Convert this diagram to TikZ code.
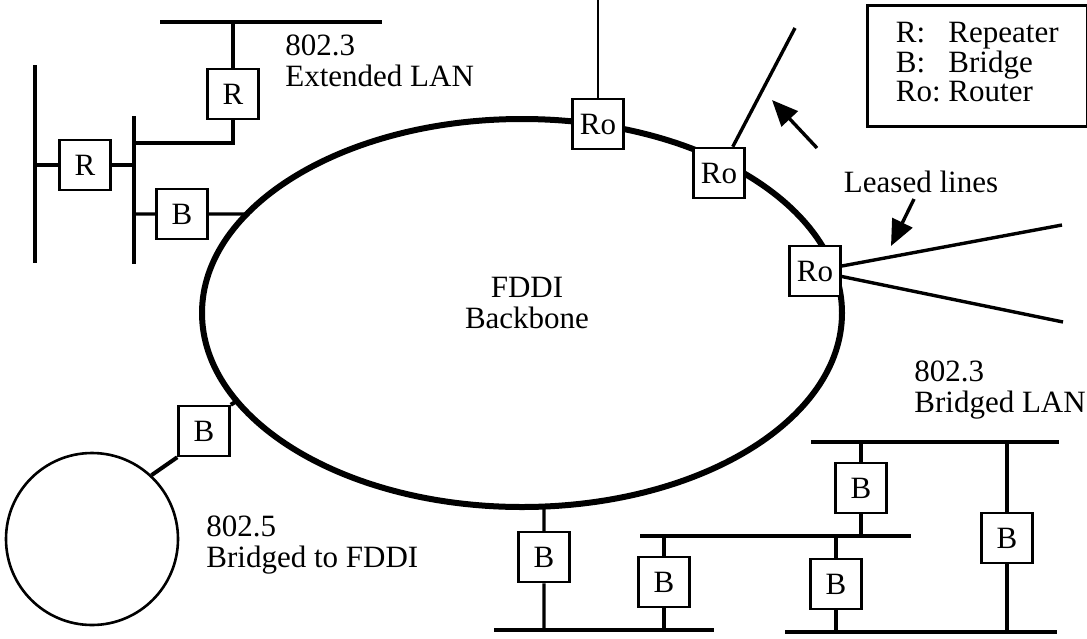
\documentclass[tikz,border=0pt]{standalone}
\usepackage{fontspec}
\setmainfont{Liberation Serif}
\usetikzlibrary{arrows.meta,shapes.geometric}

\begin{document}
\begin{tikzpicture}[x=0.5pt,y=-0.5pt,>={Triangle[length=13pt,width=11pt]},
  font=\fontsize{15.5}{15.5}\selectfont,
  dev/.style={draw,fill=white,line width=1.25pt,inner sep=0pt,
    minimum width=25.5pt,minimum height=25pt},
  bus/.style={line width=1.7pt},
  lbl/.style={align=left,inner sep=0pt,anchor=north west}]
\useasboundingbox (0,0) rectangle (1087,638);
% FDDI backbone ring
\node (ring) [ellipse,draw,line width=3pt,inner sep=0pt,
  minimum width=320pt,minimum height=194pt] at (522,313) {};
\node (fddi) [align=center,inner sep=0pt,anchor=north] at (527,277) {FDDI\\Backbone};
\path (ring.center) ++(210.7:320 and 194) coordinate (rB1);
\path (ring.center) ++(153.0:320 and 194) coordinate (rBs);
\path (ring.center) ++(86.06:320 and 194) coordinate (rBb);
% 802.3 extended LAN (top left)
\coordinate (e1w) at (160,22);
\coordinate (e1e) at (382,22);
\coordinate (e2n) at (134,116);
\coordinate (e2s) at (134,264);
\coordinate (e2j) at (134,143);
\coordinate (e3n) at (35,65);
\coordinate (e3s) at (35,263);
\draw[bus] (e1w) -- (e1e);
\draw[bus] (e2n) -- (e2s);
\draw[bus] (e3n) -- (e3s);
\node (R1) [dev] at (233,94) {R};
\node (R2) [dev] at (85,165) {R};
\node (B1) [dev] at (182,214) {B};
\draw[bus] (R1) -- (R1 |- e1w);
\draw[bus] (R1) |- (e2j);
\draw[bus] (e3n |- R2) -- (R2) -- (R2 -| e2n);
\draw[bus] (B1 -| e2n) -- (B1) -- (rB1);
\node (ext) [lbl] at (285,34) {802.3\\Extended LAN};
% routers and leased lines
\node (Ro1) [dev] at (598,124) {Ro};
\node (Ro2) [dev] at (719,173) {Ro};
\node (Ro3) [dev] at (815,271) {Ro};
\coordinate (l0) at (598,0);
\coordinate (l1) at (795,28);
\coordinate (l2) at (1062,225);
\coordinate (l3) at (1063,322);
\draw[line width=1.1pt] (Ro1) -- (l0);
\draw[bus] (Ro2) -- (l1);
\draw[bus] (Ro3) -- (l2);
\draw[bus] (Ro3) -- (l3);
\node (leased) [inner sep=0pt,anchor=base] at (921,192) {Leased lines};
\coordinate (a1s) at (817,148);
\coordinate (a1e) at (772,100);
\coordinate (a2s) at (914,199);
\coordinate (a2e) at (891,246);
\draw[->,line width=1.7pt] (a1s) -- (a1e);
\draw[->,line width=1.7pt] (a2s) -- (a2e);
% legend
\node (key) [draw,line width=1.25pt,inner sep=0pt,anchor=north west,
  minimum width=110pt,minimum height=60.5pt] at (866,4)
  {\fontsize{15.5}{14.25}\selectfont
   \begin{tabular}{@{}l@{\ }l@{}}R: & Repeater\\ B: & Bridge\\ Ro: & Router\end{tabular}};
% 802.5 ring bridged to FDDI
\node (tr) [circle,draw,line width=1.3pt,minimum size=86pt,inner sep=0pt] at (92,539) {};
\node (Bs) [dev] at (204,431) {B};
\draw[line width=2pt] (rBs) -- (Bs.north east);
\draw[line width=2pt] (Bs.south west) -- (tr.47);
\node (tok) [lbl] at (206,515) {802.5\\Bridged to FDDI};
% 802.3 bridged LAN (bottom right)
\coordinate (bt1) at (811,442);
\coordinate (bt2) at (1059,442);
\coordinate (bm1) at (640,536);
\coordinate (bm2) at (911,536);
\coordinate (bq1) at (785,632);
\coordinate (bq2) at (1057,632);
\coordinate (bp1) at (494,630);
\coordinate (bp2) at (714,630);
\draw[bus] (bt1) -- (bt2);
\draw[bus] (bm1) -- (bm2);
\draw[bus] (bq1) -- (bq2);
\draw[bus] (bp1) -- (bp2);
\node (Bbot) [dev] at (544,557) {B};
\node (Bd) [dev] at (664,582) {B};
\node (Ba) [dev] at (861,488) {B};
\node (Bb) [dev] at (836,584) {B};
\node (Bc) [dev] at (1007,538) {B};
\draw[bus] (rBb) -- (Bbot) -- (Bbot |- bp1);
\draw[bus] (Bd |- bm1) -- (Bd) -- (Bd |- bp1);
\draw[bus] (Ba |- bt1) -- (Ba) -- (Ba |- bm1);
\draw[bus] (Bb |- bm1) -- (Bb) -- (Bb |- bq1);
\draw[bus] (Bc |- bt1) -- (Bc) -- (Bc |- bq1);
\node (brg) [lbl] at (914,360) {802.3\\Bridged LAN};
\end{tikzpicture}
\end{document}
